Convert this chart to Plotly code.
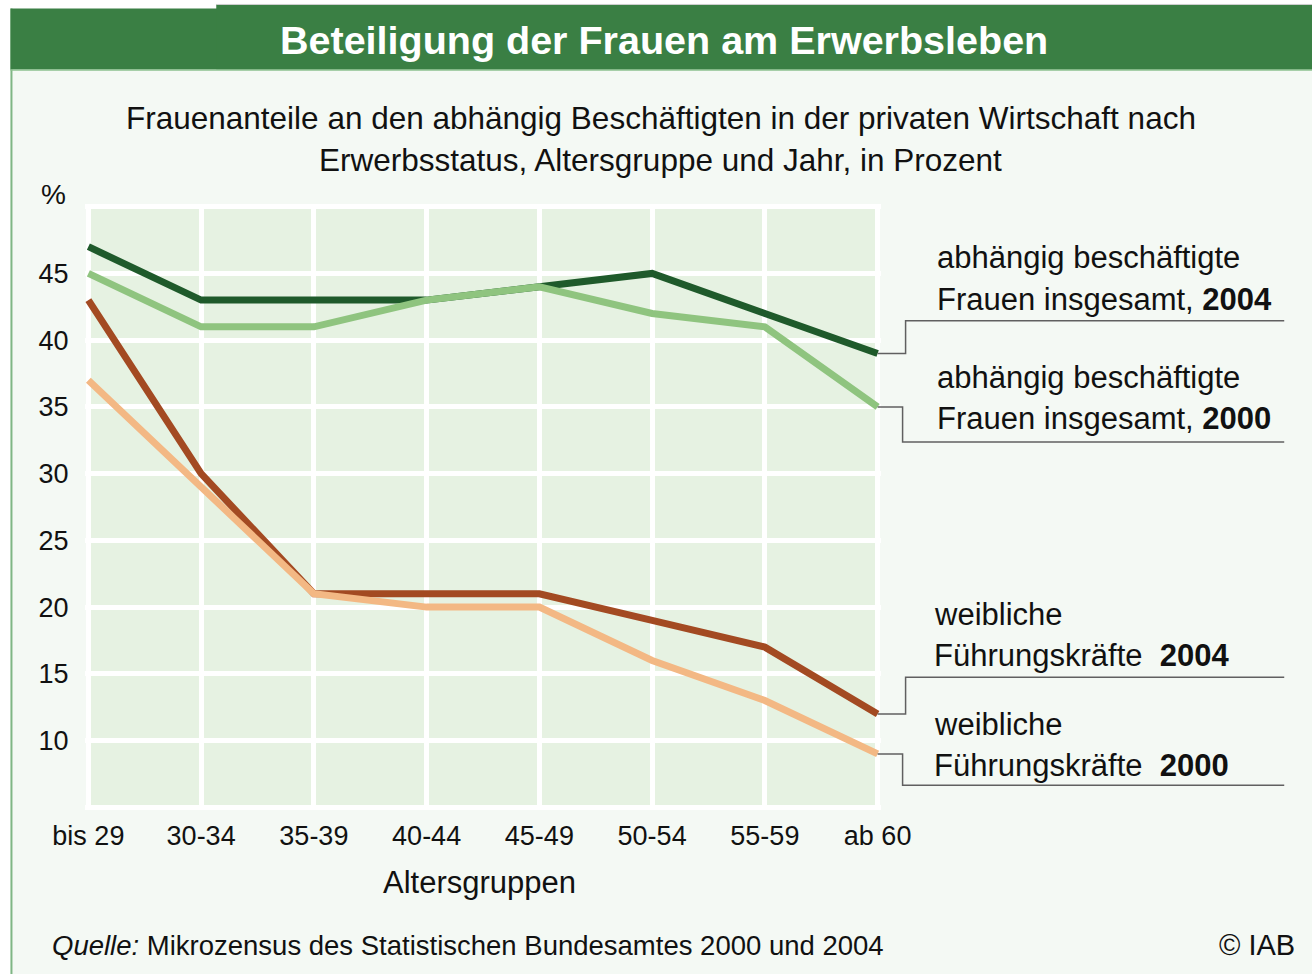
import plotly.graph_objects as go

# ---------------- data ----------------
categories = ["bis 29", "30-34", "35-39", "40-44", "45-49", "50-54", "55-59", "ab 60"]
frauen_2004 = [47, 43, 43, 43, 44, 45, 42, 39]
frauen_2000 = [45, 41, 41, 43, 44, 42, 41, 35]
fuehrung_2004 = [43, 30, 21, 21, 21, 19, 17, 12]
fuehrung_2000 = [37, 29, 21, 20, 20, 16, 13, 9]
y_tickvals = [5, 10, 15, 20, 25, 30, 35, 40, 45, 50]
y_ticktext = ["", "10", "15", "20", "25", "30", "35", "40", "45", ""]

title = "Beteiligung der Frauen am Erwerbsleben"
subtitle_1 = "Frauenanteile an den abhängig Beschäftigten in der privaten Wirtschaft nach"
subtitle_2 = "Erwerbsstatus, Altersgruppe und Jahr, in Prozent"
x_title = "Altersgruppen"
source = "<i>Quelle:</i> Mikrozensus des Statistischen Bundesamtes 2000 und 2004"

# ---------------- geometry ----------------
W, H = 1312, 974
X0PX, X7PX = 88, 878
Y5PX, Y50PX = 807, 207
XPAD, YPAD = 0.03, 0.2
n = len(categories) - 1
ux = (X7PX - X0PX) / n
uy = (Y5PX - Y50PX) / 45
L = X0PX - XPAD * ux
R = X7PX + XPAD * ux
T = Y50PX - YPAD * uy
B = Y5PX + YPAD * uy
xr = [-XPAD, n + XPAD]
yr = [5 - YPAD, 50 + YPAD]


def px(x):
    return (x - L) / (R - L)


def py(y):
    return (B - y) / (B - T)


def vy(v):  # data value -> paper y
    return (v - yr[0]) / (yr[1] - yr[0])


FONT = "Liberation Sans, Arial, sans-serif"
DARK_GREEN = "#1f5a2b"
LIGHT_GREEN = "#8fc47f"
BROWN = "#a34a22"
PEACH = "#f3b884"
CELL = "#e6f2e2"
PAGE = "#f4f9f4"
HEADER = "#3a7f44"
TXT = "#111111"

fig = go.Figure()

series = [
    (frauen_2004, DARK_GREEN),
    (frauen_2000, LIGHT_GREEN),
    (fuehrung_2004, BROWN),
    (fuehrung_2000, PEACH),
]
for vals, col in series:
    fig.add_trace(go.Scatter(x=categories, y=vals, mode="lines",
                             line=dict(color=col, width=7),
                             hoverinfo="skip", showlegend=False))

shapes = []
# page backgrounds
shapes.append(dict(type="rect", xref="paper", yref="paper", layer="below",
                   x0=px(10), x1=px(W + 5), y0=py(70), y1=py(H + 5),
                   fillcolor=PAGE, line=dict(width=0)))
shapes.append(dict(type="line", xref="paper", yref="paper", layer="below",
                   x0=px(11), x1=px(11), y0=py(9), y1=py(H + 5),
                   line=dict(color="#7fb685", width=2)))
# header
shapes.append(dict(type="rect", xref="paper", yref="paper", layer="below",
                   x0=px(10), x1=px(W + 5), y0=py(70), y1=py(9),
                   fillcolor=HEADER, line=dict(width=0)))
shapes.append(dict(type="rect", xref="paper", yref="paper", layer="below",
                   x0=px(216), x1=px(W + 5), y0=py(70), y1=py(5),
                   fillcolor=HEADER, line=dict(width=0)))
shapes.append(dict(type="line", xref="paper", yref="paper", layer="below",
                   x0=px(216), x1=px(W + 5), y0=py(5), y1=py(5),
                   line=dict(color="#d0d0d0", width=1)))
shapes.append(dict(type="line", xref="paper", yref="paper", layer="below",
                   x0=px(10), x1=px(W + 5), y0=py(70.5), y1=py(70.5),
                   line=dict(color="#8cc08f", width=1.5)))
# green cells inside plot (beneath the white grid)
shapes.append(dict(type="rect", xref="x", yref="y", layer="below",
                   x0=0, x1=n, y0=5, y1=50,
                   fillcolor=CELL, line=dict(width=0)))

# callout connectors
ends = [frauen_2004[-1], frauen_2000[-1], fuehrung_2004[-1], fuehrung_2000[-1]]
elbow_x = [906, 903, 906, 903]
under_y = [321, 442, 677, 785]
for v, ex, uyp in zip(ends, elbow_x, under_y):
    x_end = px(X7PX)
    path = (f"M {x_end},{vy(v)} L {px(ex)},{vy(v)} "
            f"L {px(ex)},{py(uyp)} L {px(1285)},{py(uyp)}")
    shapes.append(dict(type="path", xref="paper", yref="paper", path=path,
                       line=dict(color="#606060", width=1.5)))

annotations = []


def text(t, x, y, size, xanchor="center", color=TXT, bold=False):
    annotations.append(dict(text=f"<b>{t}</b>" if bold else t,
                            xref="paper", yref="paper",
                            x=px(x), y=py(y), xanchor=xanchor, yanchor="middle",
                            showarrow=False,
                            font=dict(family=FONT, size=size, color=color)))


text(title, 664, 41, 39.5, color="white", bold=True)
text(subtitle_1, 661, 118, 31.5)
text(subtitle_2, 661, 160, 31.5)
text("%", 53, 195, 28)
text(x_title, 479, 882, 31)
text(source, 50, 945, 27.5, xanchor="left")
text("© IAB", 1298, 945, 29, xanchor="right")

LBL = 31
text("abhängig beschäftigte", 935, 258, LBL, xanchor="left")
text("Frauen insgesamt, <b>2004</b>", 935, 300, LBL, xanchor="left")
text("abhängig beschäftigte", 935, 378, LBL, xanchor="left")
text("Frauen insgesamt, <b>2000</b>", 935, 419, LBL, xanchor="left")
text("weibliche", 932, 614, LBL, xanchor="left")
text("Führungskräfte  <b>2004</b>", 932, 655, LBL, xanchor="left")
text("weibliche", 932, 724, LBL, xanchor="left")
text("Führungskräfte  <b>2000</b>", 932, 765, LBL, xanchor="left")

fig.update_layout(
    width=W, height=H,
    margin=dict(l=L, r=W - R, t=T, b=H - B, pad=0),
    paper_bgcolor="white",
    plot_bgcolor="white",
    shapes=shapes,
    annotations=annotations,
    showlegend=False,
    font=dict(family=FONT, size=27, color=TXT),
)
fig.update_xaxes(type="category", range=xr, showgrid=True, gridcolor="white",
                 gridwidth=5, zeroline=False, showline=False,
                 ticks="outside", ticklen=2, tickcolor="rgba(0,0,0,0)",
                 tickfont=dict(family=FONT, size=27, color=TXT),
                 fixedrange=True)
fig.update_yaxes(range=yr, tickvals=y_tickvals, ticktext=y_ticktext,
                 showgrid=True, gridcolor="white", gridwidth=5,
                 zeroline=False, showline=False,
                 ticks="outside", ticklen=10, tickcolor="rgba(0,0,0,0)",
                 tickfont=dict(family=FONT, size=27, color=TXT),
                 fixedrange=True)

fig.write_html(
    "out.html",
    config={"displayModeBar": False},
    post_script="document.body.style.margin='0';document.body.style.padding='0';",
)
